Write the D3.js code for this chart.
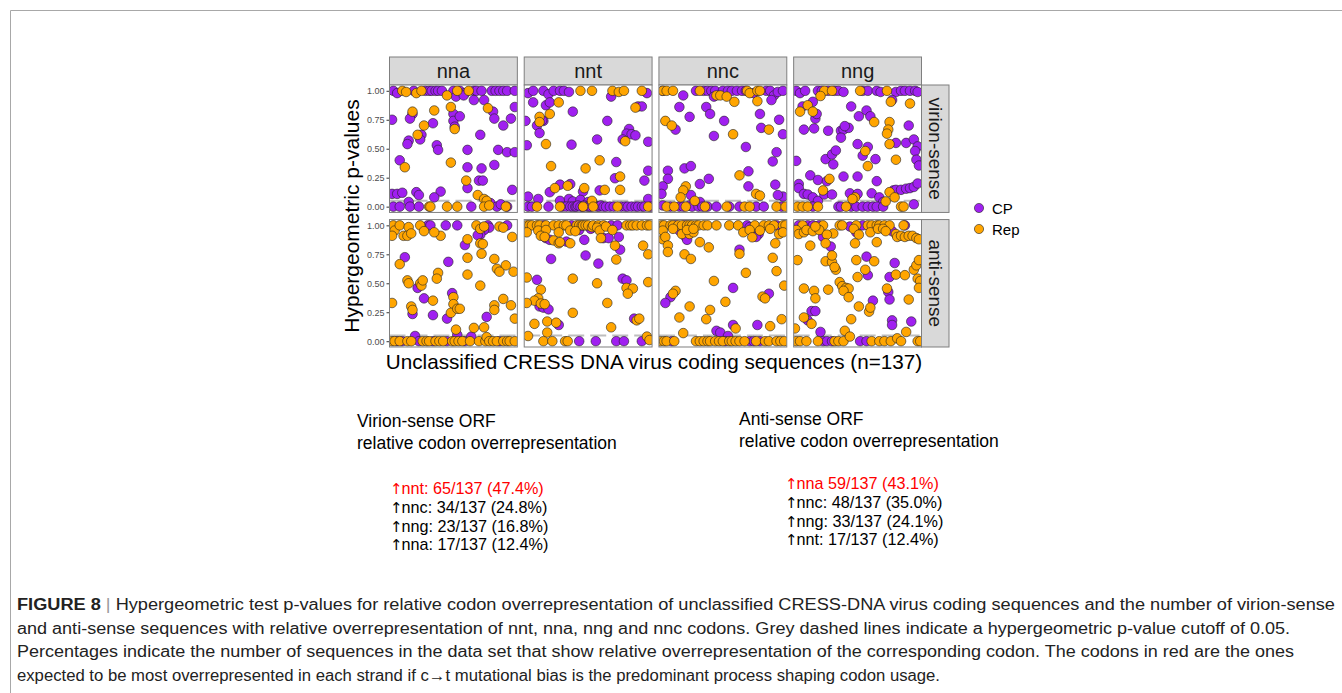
<!DOCTYPE html>
<html>
<head>
<meta charset="utf-8">
<script src="https://cdn.jsdelivr.net/npm/d3@7"></script>
<style>
  body { margin: 0; background: #fff; }
  svg { font-family: "Liberation Sans", Arial, sans-serif; }
</style>
</head>
<body>
<svg width="1342" height="693"></svg>
<script>

// facets
const codons = ["nna", "nnt", "nnc", "nng"];
const strands = ["virion-sense", "anti-sense"];
const groups = ["CP", "Rep"];
const yTicks = [0, 0.25, 0.5, 0.75, 1];
const cutoff = 0.05;

// points: [jitter position 0-100, p-value]
const vir_nna_cp = [[3,1],[6,0.98],[19,1],[28,1],[31,1],[33,1],[36,1],[38,1],[41,1],[50,1],[55,1],[59,0.98],[66,1],[68,1],[72,1],[80,1],[83,1],[86,1],[89,1],[92,1],[98,1],
  [52,0.95],[58,0.96],[66,0.92],[74,0.92],[2,0.75],[18,0.80],[16,0.76],[34,0.72],[50,0.80],[50,0.74],[51,0.69],[55,0.78],[81,0.82],[82,0.76],[89,0.70],[95,0.76],[98,0.86],
  [15,0.57],[14,0.54],[25,0.62],[24,0.58],[37,0.53],[38,0.49],[71,0.62],[61,0.49],[85,0.49],[92,0.47],[98,0.47],
  [8,0.40],[61,0.34],[72,0.33],[82,0.36],[61,0.16],[70,0.225],[73,0.225],[96,0.145],
  [2,0.11],[6,0.11],[10,0.12],[21,0.125],[23,0.10],[40,0.13],[35,0.08],
  [3,0],[8,0],[15,0.04],[16,0],[23,0],[64,0],[79,0.03],[84,0],[87,0.02],[92,0]];
const vir_nna_rep = [[10,1],[13,0.99],[21,0.98],[25,1],[53,1],[62,1],[45,0.96],
  [18,0.82],[35,0.83],[27,0.70],[48,0.86],[51,0.67],[77,0.85],[22,0.62],[12,0.34],[48,0.38],[60,0.225],[69,0.10],[74,0.066],[76,0.05],
  [31,0],[32,0],[45,0],[53,0],[74,0],[78,0.01],[91,0]];

const vir_nnt_cp = [[3,0.98],[7,1],[15,1],[19,0.97],[23,1],[28,1],[31,1],[35,0.99],[96,0.98],
  [7,0.90],[17,0.875],[20,0.90],[15,0.74],[10,0.70],[12,0.635],[1,0.74],[38,0.82],[68,0.95],[89,0.865],[92,0.865],[65,0.74],[82,0.67],[80,0.63],[84,0.625],[87,0.615],[77,0.58],[97,0.56],[57,0.58],[2,0.53],[37,0.535],[14,0.745],
  [72,0.385],[97,0.31],[94,0.225],[71,0.245],[20,0.125],[28,0.19],[36,0.195],[46,0.13],[59,0.14],[3,0.087],[11,0.066],[28,0.05],[35,0.066],[38,0.045],[44,0.058],[50,0.04],[54,0.02],[97,0.066],
  [3,0],[6,0],[19,0],[30,0],[33,0],[36,0],[38,0],[40,0],[41,0],[42,0.01],[44,0],[46,0],[47,0.01],[49,0],[51,0],[52,0],[55,0.01],[57,0],[59,0],[60,0.01],[62,0],[64,0],[67,0],[70,0],[76,0],[79,0],[81,0],[84,0],[87,0],[89,0],[92,0],[94,0],[99,0]];
const vir_nnt_rep = [[44,1],[53,1],[69,1],[74,0.99],[78,1],[92,1],[27,0.90],[20,0.80],[12,0.775],[12,0.73],[79,0.565],[87,0.855],[17,0.54],[21,0.35],[48,0.33],[59,0.40],[75,0.26],[24,0.16],[34,0.18],[47,0.16],[63,0.145],[75,0.145],[53,0.05],
  [10,0],[28,0],[46,0],[54,0],[73,0],[97,0]];

const vir_nnc_cp = [[3,1],[29,1],[35,1],[38,1],[41,1],[44,1],[50,1],[54,1],[57,1],[61,1],[65,1],[68,1],[74,0.98],[84,1],[87,1],[90,0.96],[93,0.99],[97,1],[43,0.95],
  [19,0.96],[88,0.92],[16,0.86],[37,0.86],[40,0.80],[24,0.775],[51,0.74],[79,0.80],[94,0.75],[97,0.625],[13,0.665],[80,0.68],[43,0.61],[68,0.515],[92,0.47],[89,0.39],
  [7,0.31],[7,0.24],[20,0.33],[25,0.35],[39,0.24],[32,0.195],[70,0.305],[3,0.175],[25,0.10],[70,0.175],[91,0.19],[97,0.087],[93,0.10],[2,0.11],
  [3,0.01],[9,0],[16,0],[19,0],[24,0.01],[26,0],[31,0],[32,0.04],[34,0],[38,0],[45,0],[55,0],[63,0],[76,0],[82,0],[96,0]];
const vir_nnc_rep = [[3,1],[6,1],[11,1],[32,1],[45,0.96],[48,0.96],[69,1],[71,0.98],[77,1],[79,1],[53,0.95],[59,0.905],[77,0.91],[5,0.74],[10,0.70],[86,0.665],[58,0.625],[63,0.27],[21,0.175],[19,0.14],[17,0.08],[76,0.11],[79,0.095],
  [6,0],[12,0],[21,0],[28,0.05],[36,0],[53,0],[67,0],[71,0],[92,0],[99,0]];

const vir_nng_cp = [[2,1],[5,0.98],[9,1],[19,1],[22,1],[27,1],[32,1],[35,1],[39,0.99],[54,1],[58,1],[65,1],[68,0.99],[80,0.99],[84,1],[87,1],[91,1],[95,1],[97,0.99],
  [77,0.92],[7,0.865],[15,0.905],[17,0.76],[18,0.80],[45,0.865],[51,0.78],[57,0.83],[60,0.78],[90,0.70],[8,0.665],[16,0.675],[27,0.655],[37,0.655],[39,0.665],[43,0.68],[40,0.695],[37,0.595],
  [2,0.395],[25,0.41],[30,0.45],[33,0.485],[31,0.365],[50,0.54],[58,0.515],[54,0.44],[64,0.41],[80,0.55],[88,0.55],[94,0.58],[97,0.52],[95,0.48],[96,0.405],[98,0.355],
  [13,0.27],[19,0.23],[26,0.22],[39,0.26],[50,0.26],[4,0.195],[4,0.16],[8,0.11],[11,0.105],[15,0.08],[19,0.05],[24,0.105],[30,0.105],[44,0.115],[50,0.11],[65,0.22],[61,0.115],[67,0.08],[70,0.04],[78,0.14],[80,0.145],[84,0.145],[88,0.155],[91,0.16],[94,0.17],[97,0.20],
  [15,0],[35,0],[37,0],[45,0],[49,0],[54,0],[58,0],[62,0],[65,0],[70,0],[94,0.02]];
const vir_nng_rep = [[24,1],[30,1],[52,1],[73,1],[21,0.955],[76,0.905],[91,0.89],[11,0.875],[5,0.82],[15,0.82],[63,0.73],[75,0.73],[74,0.665],[73,0.63],[56,0.48],[80,0.405],[58,0.35],[75,0.54],[28,0.24],[23,0.14],[48,0.08],[46,0.066],[72,0.045],[75,0.125],[79,0.08],
  [3,0],[7,0],[11,0],[19,0],[41,0],[84,0],[86,0]];

const anti_nna_cp = [[30,1],[32,1],[44,1],[53,1],[77,1],[75,0.975],[78,0.98],[74,0.96],[92,1],[71,0.92],[69,0.915],[59,0.83],[12,0.725],[46,0.685],[22,0.46],[27,0.37],[49,0.415],[18,0.235],[34,0.225],[45,0.195],[76,0.21],[53,0.055],[20,0.045],
  [6,0],[10,0],[23,0],[34,0],[45,0],[59,0],[64,0.04],[86,0]];
const anti_nna_rep = [[3,1],[4,0.955],[2,0.91],[8,1],[11,0.91],[15,0.985],[14,0.91],[17,0.93],[24,1],[27,0.95],[40,0.91],[35,0.94],[68,1],[71,0.97],[74,0.99],[86,0.99],[89,0.98],[96,0.90],
  [61,0.88],[71,0.845],[73,0.84],[72,0.755],[8,0.665],[61,0.72],[61,0.575],[82,0.71],[84,0.625],[91,0.655],[97,0.60],[86,0.60],[14,0.525],[15,0.50],[24,0.50],[25,0.48],[26,0.525],[38,0.59],[37,0.54],[71,0.48],
  [2,0.33],[34,0.35],[50,0.38],[50,0.32],[48,0.245],[53,0.28],[55,0.28],[17,0.30],[18,0.27],[82,0.31],[82,0.27],[89,0.365],[95,0.31],[98,0.195],[52,0.10],[66,0.115],[74,0.12],
  [2,0],[4,0],[8,0],[14,0],[17,0],[26,0],[29,0],[31,0],[36,0],[39,0],[42,0],[49,0],[51,0],[54,0],[57,0],[63,0],[70,0],[75,0],[76,0.035],[78,0],[81,0],[84,0],[89,0],[92,0],[94,0],[98,0]];

const anti_nnt_cp = [[15,1],[37,1],[68,1],[73,1],[43,0.96],[52,0.97],[17,0.89],[20,0.875],[33,0.86],[47,0.875],[62,0.89],[66,0.89],[74,0.90],[75,0.79],[21,0.71],[48,0.74],[58,0.67],[10,0.53],[77,0.54],[80,0.525],[12,0.30],[15,0.29],[19,0.275],[27,0.14],[86,0.195],
  [43,0],[56,0],[72,0],[78,0],[92,0]];
const anti_nnt_rep = [[2,1],[4,1],[6,1],[10,1],[12,1],[17,1],[23,1],[27,1],[31,1],[33,1],[41,1],[43,1],[45,1],[46,1],[48,1],[50,1],[53,0.985],[54,1],[58,1],[62,1],[80,1],[83,1],[85,1],[88,1],[92,1],[96,1],[98,1],
  [2,0.94],[11,0.955],[17,0.96],[27,0.94],[36,0.955],[40,0.95],[57,0.98],[59,0.955],[64,0.99],[69,0.96],[13,0.91],[16,0.90],[23,0.87],[27,0.845],[28,0.855],[36,0.845],[60,0.89],[71,0.825],[93,0.825],[97,0.75],[72,0.705],
  [2,0.55],[38,0.54],[57,0.50],[80,0.46],[85,0.455],[81,0.41],[97,0.51],[13,0.445],[11,0.37],[8,0.35],[13,0.325],[16,0.32],[2,0.33],[65,0.33],[38,0.245],[8,0.15],[18,0.17],[25,0.16],[18,0.075],[88,0.18],[90,0.195],[68,0.12],[3,0.045],[96,0.04],
  [15,0],[22,0],[32,0],[34,0],[98,0.01]];

const anti_nnc_cp = [[13,1],[20,1],[69,1],[71,0.985],[92,1],[16,0.955],[21,0.90],[22,0.875],[78,0.925],[76,0.90],[63,0.79],[58,0.46],[9,0.38],[5,0.33],[86,0.41],[45,0.09],[48,0.075],[58,0.14],[77,0.14],[54,0.045],
  [10,0],[52,0],[71,0],[74,0],[79,0]];
const anti_nnc_rep = [[2,1],[4,1],[9,1],[11,1],[15,1],[18,1],[22,1],[24,1],[26,1],[29,1],[31,1],[35,1],[38,1],[45,1],[55,1],[62,1],[75,1],[82,1],[86,1],[90,1],[97,1],[99,1],
  [3,0.955],[11,0.97],[18,0.925],[24,0.925],[27,0.94],[22,0.96],[27,0.97],[66,0.94],[71,0.96],[79,0.955],[87,0.97],[94,0.925],[97,0.94],[73,0.897],[3,0.88],[5,0.90],[7,0.826],[7,0.77],[32,0.855],[39,0.81],[20,0.75],[25,0.71],[63,0.755],[91,0.845],[89,0.72],[68,0.59],[92,0.605],[98,0.48],[43,0.52],
  [13,0.435],[11,0.41],[52,0.34],[81,0.385],[83,0.37],[24,0.30],[40,0.27],[37,0.19],[16,0.205],[96,0.19],[87,0.13],[19,0.07],[60,0.11],
  [1,0],[4,0],[6,0],[12,0],[29,0],[32,0],[35,0],[38,0],[40,0],[44,0],[47,0],[50,0],[55,0],[57,0],[60,0],[63,0],[67,0],[76,0],[83,0],[86,0],[92,0],[95,0],[98,0]];

const anti_nng_cp = [[4,1],[11,1],[15,1],[20,1],[44,0.99],[54,1],[87,1],[23,0.90],[29,0.817],[49,0.94],[77,0.95],[57,0.73],[79,0.675],[58,0.57],[75,0.554],[74,0.425],[75,0.36],[14,0.26],[17,0.26],[11,0.18],[62,0.35],[77,0.18],[77,0.14],[92,0.17],[21,0.08],
  [23,0],[26,0],[30,0],[52,0],[57,0]];
const anti_nng_rep = [[7,1],[23,1],[36,1],[38,1],[49,1],[58,1],[61,1],[65,1],[67,1],[71,1],[75,1],[86,1],
  [2,0.96],[4,0.925],[8,0.94],[10,0.96],[15,0.95],[20,0.96],[17,0.99],[31,0.93],[26,0.92],[47,0.97],[51,0.92],[60,0.94],[66,0.97],[70,0.97],[72,0.95],[80,0.925],[81,0.90],[84,0.91],[87,0.90],[90,0.91],[93,0.91],[96,0.89],[98,0.88],
  [25,0.845],[13,0.825],[48,0.845],[65,0.855],[3,0.70],[25,0.69],[30,0.683],[30,0.74],[33,0.617],[32,0.64],[49,0.70],[63,0.69],[56,0.617],[50,0.554],[80,0.575],[87,0.57],[94,0.617],[96,0.655],[98,0.70],[97,0.54],[99,0.52],
  [8,0.455],[16,0.435],[27,0.445],[17,0.37],[36,0.51],[38,0.475],[41,0.46],[43,0.455],[39,0.435],[43,0.38],[73,0.455],[90,0.36],[98,0.46],[8,0.205],[14,0.15],[59,0.255],[60,0.29],[51,0.30],[45,0.19],[88,0.08],[1,0.11],[40,0.09],
  [2,0],[5,0],[10,0],[19,0],[32,0],[35,0],[39,0],[44,0.04],[61,0],[67,0],[71,0],[76,0],[81,0.025],[84,0],[97,0],[99,0]];

// text blocks
const virionTitle = ["Virion-sense ORF", "relative codon overrepresentation"];
const antiTitle = ["Anti-sense ORF", "relative codon overrepresentation"];
const virionCounts = ["nnt: 65/137 (47.4%)", "nnc: 34/137 (24.8%)", "nng: 23/137 (16.8%)", "nna: 17/137 (12.4%)"];
const antiCounts = ["nna 59/137 (43.1%)", "nnc: 48/137 (35.0%)", "nng: 33/137 (24.1%)", "nnt: 17/137 (12.4%)"];
const captionLines = [
  "Hypergeometric test p-values for relative codon overrepresentation of unclassified CRESS-DNA virus coding sequences and the number of virion-sense",
  "and anti-sense sequences with relative overrepresentation of nnt, nna, nng and nnc codons. Grey dashed lines indicate a hypergeometric p-value cutoff of 0.05.",
  "Percentages indicate the number of sequences in the data set that show relative overrepresentation of the corresponding codon. The codons in red are the ones",
  "expected to be most overrepresented in each strand if c\u2192t mutational bias is the predominant process shaping codon usage."
];

const table = {
  "virion-sense": { nna: [vir_nna_cp, vir_nna_rep], nnt: [vir_nnt_cp, vir_nnt_rep], nnc: [vir_nnc_cp, vir_nnc_rep], nng: [vir_nng_cp, vir_nng_rep] },
  "anti-sense": { nna: [anti_nna_cp, anti_nna_rep], nnt: [anti_nnt_cp, anti_nnt_rep], nnc: [anti_nnc_cp, anti_nnc_rep], nng: [anti_nng_cp, anti_nng_rep] }
};

const color = d3.scaleOrdinal().domain(groups).range(["#A020F0", "#FFA500"]);

let svg = d3.select("svg");

// outer frame
svg.append("path")
  .attr("d", "M10.5,693V10.5H1342")
  .attr("fill", "none")
  .attr("stroke", "#a8a8a8")
  .attr("stroke-width", 1);

let col = d3.scaleBand().domain(codons).range([389.5, 921.5]).paddingInner(0.051);
let row = d3.scaleBand().domain(strands).range([85, 347]).paddingInner(0.053);
let pw = col.bandwidth(), ph = row.bandwidth();
let x = d3.scaleLinear().domain([0, 100]).range([0, pw]);
let y = d3.scaleLinear().domain([-0.05, 1.05]).range([ph, 0]);

// column strips
codons.forEach(function(c){
  let g = svg.append("g").attr("transform", "translate(" + col(c) + ",57)");
  g.append("rect").attr("width", pw).attr("height", 28)
    .attr("fill", "#d9d9d9").attr("stroke", "#7f7f7f").attr("stroke-width", 1);
  g.append("text").attr("x", pw / 2).attr("y", 21)
    .attr("text-anchor", "middle").attr("font-size", 20).attr("fill", "#1a1a1a").text(c);
});

// row strips
strands.forEach(function(s){
  let g = svg.append("g").attr("transform", "translate(921.5," + row(s) + ")");
  g.append("rect").attr("width", 27.5).attr("height", ph)
    .attr("fill", "#d9d9d9").attr("stroke", "#7f7f7f").attr("stroke-width", 1);
  g.append("text").attr("transform", "translate(7," + (ph / 2) + ") rotate(90)")
    .attr("text-anchor", "middle").attr("font-size", 19).attr("fill", "#1a1a1a").text(s);
});

let defs = svg.append("defs");

strands.forEach(function(s, si){
  // y axis per row
  let ax = svg.append("g").attr("transform", "translate(389.5," + row(s) + ")")
    .call(d3.axisLeft(y).tickValues(yTicks).tickFormat(d3.format(".2f")).tickSize(3).tickPadding(2));
  ax.select(".domain").remove();
  ax.selectAll(".tick line").attr("stroke", "#333");
  ax.selectAll(".tick text").attr("fill", "#4d4d4d").attr("font-size", 9)
    .attr("font-family", "Liberation Sans, Arial, sans-serif");

  codons.forEach(function(c, ci){
    let id = "clip" + si + ci;
    defs.append("clipPath").attr("id", id)
      .append("rect").attr("width", pw).attr("height", ph);

    let g = svg.append("g").attr("transform", "translate(" + col(c) + "," + row(s) + ")");
    g.append("rect").attr("width", pw).attr("height", ph).attr("fill", "#fff");

    let inner = g.append("g").attr("clip-path", "url(#" + id + ")");
    inner.append("line")
      .attr("x1", 0).attr("x2", pw)
      .attr("y1", y(cutoff)).attr("y2", y(cutoff))
      .attr("stroke", "#bebebe").attr("stroke-width", 2)
      .attr("stroke-dasharray", "16,6");

    let pts = [];
    table[s][c].forEach(function(arr, gi){
      arr.forEach(function(d){ pts.push({ j: d[0], p: d[1], grp: groups[gi] }); });
    });

    inner.selectAll("circle")
      .data(pts).enter()
      .append("circle")
        .attr("cx", function(d){ return x(d.j); })
        .attr("cy", function(d){ return y(d.p); })
        .attr("r", 4.8)
        .attr("fill", function(d){ return color(d.grp); })
        .attr("stroke", "#222")
        .attr("stroke-width", 0.6);

    g.append("rect").attr("width", pw).attr("height", ph)
      .attr("fill", "none").attr("stroke", "#7f7f7f").attr("stroke-width", 1);
  });
});

// axis titles
svg.append("text")
  .attr("transform", "translate(359,216) rotate(-90)")
  .attr("text-anchor", "middle").attr("font-size", 21).attr("fill", "#000")
  .text("Hypergeometric p-values");

svg.append("text")
  .attr("x", 654).attr("y", 369)
  .attr("text-anchor", "middle").attr("font-size", 20.7).attr("fill", "#000")
  .text("Unclassified CRESS DNA virus coding sequences (n=137)");

// legend
let leg = svg.append("g");
groups.forEach(function(gname, i){
  leg.append("circle").attr("cx", 979).attr("cy", 208 + i * 21).attr("r", 4.6)
    .attr("fill", color(gname)).attr("stroke", "#222").attr("stroke-width", 0.6);
  leg.append("text").attr("x", 992).attr("y", 213.5 + i * 21)
    .attr("font-size", 15).attr("fill", "#000").text(gname);
});

// summary text blocks
function block(lines, x0, y0, step, size){
  lines.forEach(function(t, i){
    svg.append("text").attr("x", x0).attr("y", y0 + i * step)
      .attr("font-size", size).attr("fill", "#000").text(t);
  });
}
block(virionTitle, 357, 427, 21.5, 17.5);
block(antiTitle, 739, 425, 21.5, 17.5);

function counts(lines, x0, y0){
  lines.forEach(function(t, i){
    let tx = svg.append("text").attr("x", x0).attr("y", y0 + i * 18.8)
      .attr("font-size", 16.2).attr("fill", i === 0 ? "#ff0000" : "#000");
    tx.append("tspan").attr("font-family", "DejaVu Sans").attr("font-size", 15)
      .attr("dx", -1).text("\u2191");
    tx.append("tspan").attr("dx", -1).text(t);
  });
}
counts(virionCounts, 391, 494);
counts(antiCounts, 786, 489);

// caption
let capW = [1318, 1273, 1277, 923];
captionLines.forEach(function(t, i){
  let tx = svg.append("text").attr("x", 17).attr("y", 610 + i * 23.6)
    .attr("font-size", 16).attr("fill", "#222")
    .attr("textLength", capW[i]).attr("lengthAdjust", "spacingAndGlyphs");
  if (i === 0) {
    tx.append("tspan").attr("font-weight", "bold").text("FIGURE 8 ");
    tx.append("tspan").attr("fill", "#999").text("| ");
    tx.append("tspan").text(t);
  } else {
    tx.text(t);
  }
});

</script>
</body>
</html>
